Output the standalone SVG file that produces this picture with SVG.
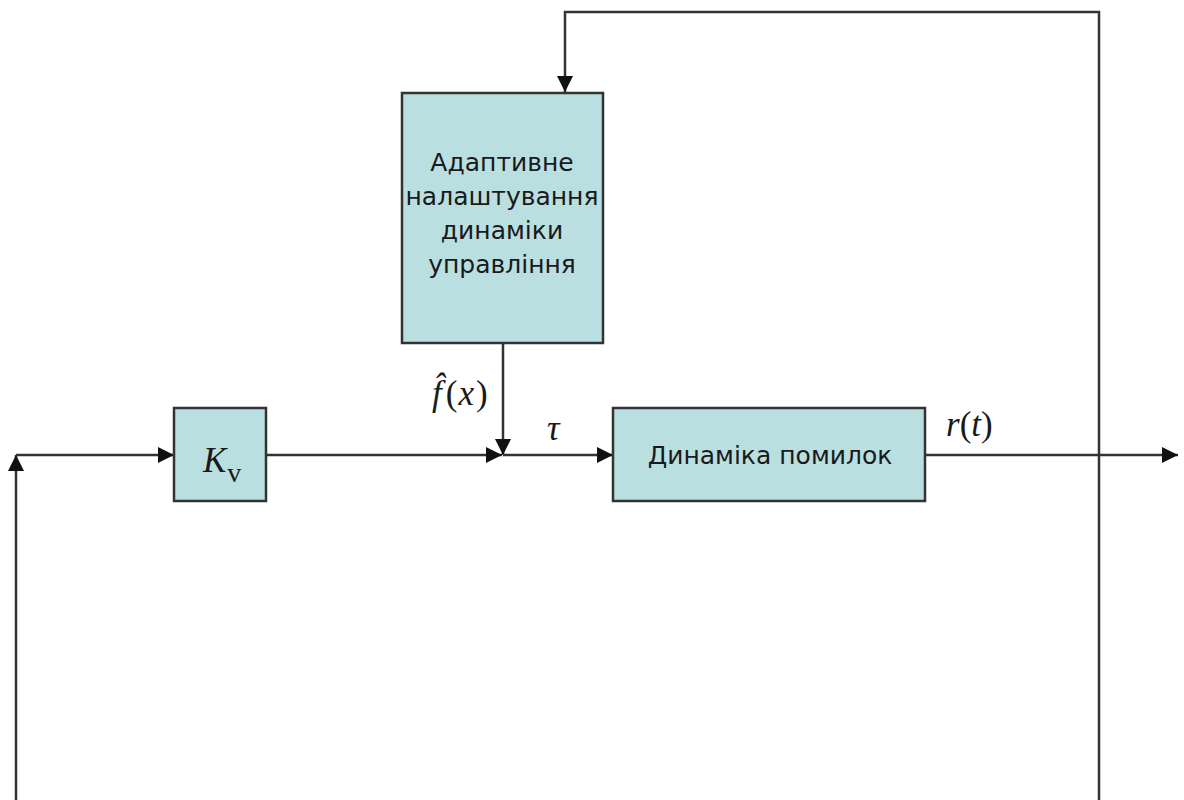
<svg xmlns="http://www.w3.org/2000/svg" width="1184" height="800" viewBox="0 0 1184 800">
  <defs>
    <marker id="arrow" viewBox="0 0 10 10" refX="10" refY="5" markerWidth="16" markerHeight="16" markerUnits="userSpaceOnUse" orient="auto">
      <path d="M0,0 L10,5 L0,10 z" fill="#111"/>
    </marker>
  </defs>
  <style>
    .block { fill: #b9dfe1; stroke: #333; stroke-width: 2.5; }
    .wire { fill: none; stroke: #333; stroke-width: 2.5; }
    .label { font-family: "DejaVu Sans", sans-serif; font-size: 25px; fill: #1a1a1a; text-anchor: middle; }
    .math { font-family: "Liberation Serif", serif; font-size: 35px; fill: #1a1a1a; }
  </style>
  <rect width="1184" height="800" fill="#fff"/>

  <!-- connectors -->
  <g id="connectors">
    <!-- feedback from output back to the adaptive block -->
    <polyline class="wire" points="1099,800 1099,12 565,12 565,92" marker-end="url(#arrow)"/>
    <!-- feedback into the gain -->
    <polyline class="wire" points="16,800 16,455" marker-end="url(#arrow)"/>
    <polyline class="wire" points="16,455 174,455" marker-end="url(#arrow)"/>
    <!-- gain to summing point -->
    <line class="wire" x1="266" y1="455" x2="502" y2="455" marker-end="url(#arrow)"/>
    <!-- adaptive estimate to summing point -->
    <line class="wire" x1="503" y1="344" x2="503" y2="455" marker-end="url(#arrow)"/>
    <!-- tau into error dynamics -->
    <line class="wire" x1="503" y1="455" x2="613" y2="455" marker-end="url(#arrow)"/>
    <!-- output r(t) -->
    <line class="wire" x1="925" y1="455" x2="1178" y2="455" marker-end="url(#arrow)"/>
  </g>

  <g id="gain">
    <rect class="block" x="174" y="408" width="92" height="93"/>
    <text class="math" x="203" y="472" font-size="33"><tspan font-style="italic">K</tspan><tspan font-size="28" dx="1" dy="10">v</tspan></text>
  </g>

  <g id="adaptive">
    <rect class="block" x="402" y="93" width="201" height="250"/>
    <text class="label" x="502" y="171">Адаптивне</text>
    <text class="label" x="502" y="205">налаштування</text>
    <text class="label" x="502" y="239">динаміки</text>
    <text class="label" x="502" y="273">управління</text>
  </g>

  <g id="error-dynamics">
    <rect class="block" x="613" y="408" width="312" height="93"/>
    <text class="label" x="770" y="464">Динаміка помилок</text>
  </g>

  <g id="signal-labels">
    <text class="math" x="432" y="405"><tspan font-style="italic">f̂</tspan><tspan dx="4">(</tspan><tspan font-style="italic" dx="1">x</tspan><tspan dx="2">)</tspan></text>
    <text class="math" x="547" y="440" font-style="italic">τ</text>
    <text class="math" x="946" y="436"><tspan font-style="italic">r</tspan>(<tspan font-style="italic">t</tspan>)</text>
  </g>
</svg>
